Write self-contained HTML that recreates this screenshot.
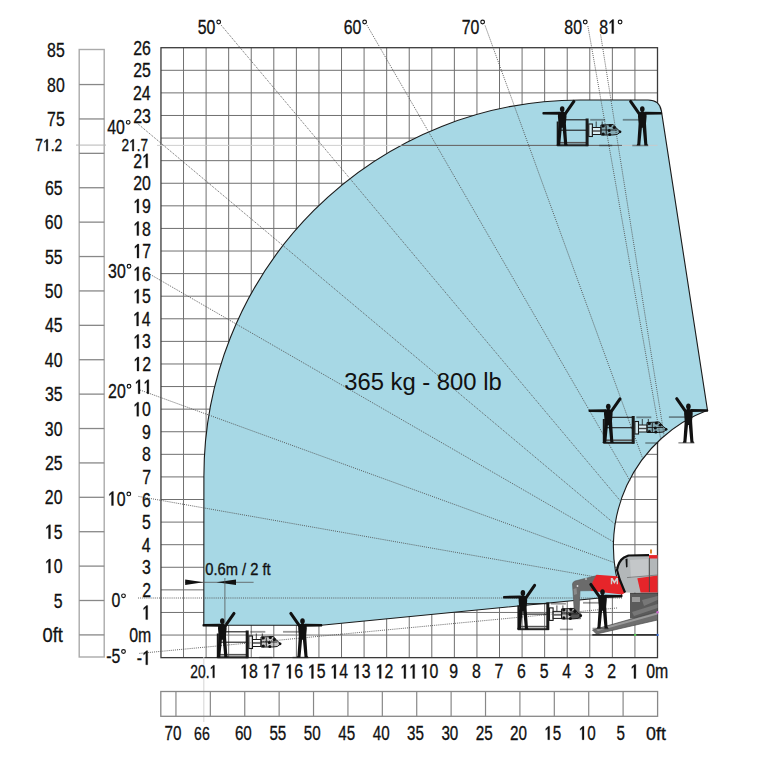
<!DOCTYPE html>
<html><head><meta charset="utf-8"><style>
html,body{margin:0;padding:0;background:#fff;}
svg{display:block;}
text{font-family:"Liberation Sans",sans-serif;}
</style></head><body>
<svg width="768" height="768" viewBox="0 0 768 768">
<rect width="768" height="768" fill="#fff"/>
<g fill="none">
<rect x="79.2" y="49.5" width="25" height="607.5" stroke="#aaa" stroke-width="1.4"/>
<line x1="79.2" x2="104.2" y1="634.90" y2="634.90" stroke="#888" stroke-width="1.3"/>
<line x1="79.2" x2="104.2" y1="600.50" y2="600.50" stroke="#888" stroke-width="1.3"/>
<line x1="79.2" x2="104.2" y1="566.11" y2="566.11" stroke="#888" stroke-width="1.3"/>
<line x1="79.2" x2="104.2" y1="531.71" y2="531.71" stroke="#888" stroke-width="1.3"/>
<line x1="79.2" x2="104.2" y1="497.31" y2="497.31" stroke="#888" stroke-width="1.3"/>
<line x1="79.2" x2="104.2" y1="462.92" y2="462.92" stroke="#888" stroke-width="1.3"/>
<line x1="79.2" x2="104.2" y1="428.52" y2="428.52" stroke="#888" stroke-width="1.3"/>
<line x1="79.2" x2="104.2" y1="394.12" y2="394.12" stroke="#888" stroke-width="1.3"/>
<line x1="79.2" x2="104.2" y1="359.73" y2="359.73" stroke="#888" stroke-width="1.3"/>
<line x1="79.2" x2="104.2" y1="325.33" y2="325.33" stroke="#888" stroke-width="1.3"/>
<line x1="79.2" x2="104.2" y1="290.93" y2="290.93" stroke="#888" stroke-width="1.3"/>
<line x1="79.2" x2="104.2" y1="256.54" y2="256.54" stroke="#888" stroke-width="1.3"/>
<line x1="79.2" x2="104.2" y1="222.14" y2="222.14" stroke="#888" stroke-width="1.3"/>
<line x1="79.2" x2="104.2" y1="187.74" y2="187.74" stroke="#888" stroke-width="1.3"/>
<line x1="79.2" x2="104.2" y1="153.35" y2="153.35" stroke="#888" stroke-width="1.3"/>
<line x1="79.2" x2="104.2" y1="118.95" y2="118.95" stroke="#888" stroke-width="1.3"/>
<line x1="79.2" x2="104.2" y1="84.55" y2="84.55" stroke="#888" stroke-width="1.3"/>
<line x1="76" x2="106" y1="145.09" y2="145.09" stroke="#b5b5b5" stroke-width="1"/>
</g>
<g stroke="#707070" stroke-width="1">
<line x1="634.93" x2="634.93" y1="47.71" y2="657.64"/>
<line x1="612.36" x2="612.36" y1="47.71" y2="657.64"/>
<line x1="589.79" x2="589.79" y1="47.71" y2="657.64"/>
<line x1="567.22" x2="567.22" y1="47.71" y2="657.64"/>
<line x1="544.65" x2="544.65" y1="47.71" y2="657.64"/>
<line x1="522.08" x2="522.08" y1="47.71" y2="657.64"/>
<line x1="499.51" x2="499.51" y1="47.71" y2="657.64"/>
<line x1="476.94" x2="476.94" y1="47.71" y2="657.64"/>
<line x1="454.37" x2="454.37" y1="47.71" y2="657.64"/>
<line x1="431.80" x2="431.80" y1="47.71" y2="657.64"/>
<line x1="409.23" x2="409.23" y1="47.71" y2="657.64"/>
<line x1="386.66" x2="386.66" y1="47.71" y2="657.64"/>
<line x1="364.09" x2="364.09" y1="47.71" y2="657.64"/>
<line x1="341.52" x2="341.52" y1="47.71" y2="657.64"/>
<line x1="318.95" x2="318.95" y1="47.71" y2="657.64"/>
<line x1="296.38" x2="296.38" y1="47.71" y2="657.64"/>
<line x1="273.81" x2="273.81" y1="47.71" y2="657.64"/>
<line x1="251.24" x2="251.24" y1="47.71" y2="657.64"/>
<line x1="228.67" x2="228.67" y1="47.71" y2="657.64"/>
<line x1="206.10" x2="206.10" y1="47.71" y2="657.64"/>
<line x1="183.53" x2="183.53" y1="47.71" y2="657.64"/>
<line x1="160.96" x2="657.50" y1="635.05" y2="635.05"/>
<line x1="160.96" x2="657.50" y1="612.46" y2="612.46"/>
<line x1="160.96" x2="657.50" y1="589.87" y2="589.87"/>
<line x1="160.96" x2="657.50" y1="567.28" y2="567.28"/>
<line x1="160.96" x2="657.50" y1="544.69" y2="544.69"/>
<line x1="160.96" x2="657.50" y1="522.10" y2="522.10"/>
<line x1="160.96" x2="657.50" y1="499.51" y2="499.51"/>
<line x1="160.96" x2="657.50" y1="476.92" y2="476.92"/>
<line x1="160.96" x2="657.50" y1="454.33" y2="454.33"/>
<line x1="160.96" x2="657.50" y1="431.74" y2="431.74"/>
<line x1="160.96" x2="657.50" y1="409.15" y2="409.15"/>
<line x1="160.96" x2="657.50" y1="386.56" y2="386.56"/>
<line x1="160.96" x2="657.50" y1="363.97" y2="363.97"/>
<line x1="160.96" x2="657.50" y1="341.38" y2="341.38"/>
<line x1="160.96" x2="657.50" y1="318.79" y2="318.79"/>
<line x1="160.96" x2="657.50" y1="296.20" y2="296.20"/>
<line x1="160.96" x2="657.50" y1="273.61" y2="273.61"/>
<line x1="160.96" x2="657.50" y1="251.02" y2="251.02"/>
<line x1="160.96" x2="657.50" y1="228.43" y2="228.43"/>
<line x1="160.96" x2="657.50" y1="205.84" y2="205.84"/>
<line x1="160.96" x2="657.50" y1="183.25" y2="183.25"/>
<line x1="160.96" x2="657.50" y1="160.66" y2="160.66"/>
<line x1="160.96" x2="657.50" y1="138.07" y2="138.07"/>
<line x1="160.96" x2="657.50" y1="115.48" y2="115.48"/>
<line x1="160.96" x2="657.50" y1="92.89" y2="92.89"/>
<line x1="160.96" x2="657.50" y1="70.30" y2="70.30"/>
</g>
<rect x="160.96" y="47.71" width="496.54" height="609.93" fill="none" stroke="#3a3a3a" stroke-width="1.3"/>
<clipPath id="blue"><path d="M203.8,625.2 L203.90,476.30 A376.3,376.3 0 0 1 580.20,100.00 L648,100.00 Q659.5,100.00 661.4,110.8 L707.5,410.3 A145.7,145.7 0 0 0 622.00,595.88 L321.25,625.2 Z"/></clipPath>
<path d="M203.8,625.2 L203.90,476.30 A376.3,376.3 0 0 1 580.20,100.00 L648,100.00 Q659.5,100.00 661.4,110.8 L707.5,410.3 A145.7,145.7 0 0 0 622.00,595.88 L321.25,625.2 Z" fill="#a7d8e5" stroke="#1a1a1a" stroke-width="1.1"/>
<line x1="157" x2="657.50" y1="145.4" y2="145.4" stroke="#c8c8c8" stroke-width="0.9"/>
<line x1="160.96" x2="622" y1="145.4" y2="145.4" stroke="#555" stroke-width="0.9" clip-path="url(#blue)"/>
<g stroke="#505050" stroke-width="0.9" stroke-dasharray="1 1.1" fill="none">
<line x1="221.2" y1="25.2" x2="621.05" y2="501.72"/>
<line x1="367" y1="25.2" x2="629.92" y2="480.59"/>
<line x1="485.1" y1="25.6" x2="643.08" y2="459.66"/>
<line x1="587.9" y1="26.1" x2="660.89" y2="440.05"/>
<line x1="600.6" y1="34.5" x2="664.35" y2="436.98"/>
<line x1="136.2" y1="122.4" x2="615.50" y2="524.58"/>
<line x1="148.3" y1="273.3" x2="613.80" y2="542.06"/>
<line x1="140" y1="390" x2="614.51" y2="562.71"/>
<line x1="138.5" y1="496.4" x2="617.60" y2="580.88"/>
<line x1="138" y1="598" x2="622" y2="598"/>
<line x1="139.4" y1="653.4" x2="618" y2="607.89"/>
</g>
<g>
<path d="M630,593.5 L657.5,593.5 L657.5,613 L640,618.5 L630,618.5 Z" fill="#5b5b5b"/>
<path d="M632,597 L640,597 L640,602 L632,602 Z" fill="#9a9a9a"/>
<path d="M642,600 L657.5,596 L657.5,600 L644,606 Z" fill="#777"/>
<path d="M632,612 L657.5,604 L657.5,608 L634,616 Z" fill="#777"/>
<path d="M592.5,630 L657.5,611.5 L657.5,620 L596.5,634 Z" fill="#6e6e6e" stroke="#4a4a4a" stroke-width="0.7"/>
<path d="M596,629.5 L657.5,612.5 L657.5,614.5 L598,631 Z" fill="#9a9a9a"/>
<path d="M572.5,584 Q573,581.5 575,581 L597,575.5 L600,590.5 L580,590.8 L579.2,611.5 L581,614 L580.5,618.8 L571,618.5 L569.6,612 L574.2,610.5 Z" fill="#6b6b6b" stroke="#555" stroke-width="0.6"/>
<circle cx="577.5" cy="586" r="0.9" fill="#ddd"/><circle cx="586" cy="579" r="0.9" fill="#ccc"/>
<path d="M573.5,589 L576.5,588 L577,594 L574,595 Z" fill="#8a8a8a"/>
<path d="M596.5,574.8 L617,576.2 L623,583 L625.5,592.5 L622,594.5 L600,592 L591,590.8 L592.5,582 Z" fill="#e6252a"/>
<path d="M610.8,584.3 L610.8,578 L612.6,578 L614.4,581 L616.2,578 L618,578 L618,584.3 L616.6,584.3 L616.6,580.6 L614.4,584 L612.2,580.6 L612.2,584.3 Z" fill="#d0d0d0"/>
<path d="M625,592.5 L619.5,579 L617,570 Q618.5,561 624,557.5 L628.5,555.5 L657.5,555.2 L657.5,593 Z" fill="#b3b7b9"/>
<path d="M630,560 L648,559 L648,576 L631,578 Z" fill="#c4c7c9"/>
<path d="M637.3,578.2 L657.5,575.6 L657.5,592.5 L640.6,592.5 Z" fill="#e6252a"/>
<path d="M649,555.1 L657.5,555.1 L657.5,558.5 L649,558.5 Z" fill="#e6252a"/>
<path d="M625,592.5 L619.5,579 L617,570 Q618.5,561 624,557.5 L628.5,555.5 L649,555.2" fill="none" stroke="#111" stroke-width="2.2" stroke-linejoin="round"/>
<line x1="649.4" y1="558" x2="649.4" y2="592" stroke="#444" stroke-width="0.9"/>
<line x1="627" y1="577.6" x2="657.5" y2="575" stroke="#666" stroke-width="0.7"/>
<path d="M625.5,559 L627.5,558.5 L627.5,567 L626,567.5 Z" fill="#111"/>
<line x1="630" y1="593.3" x2="657.5" y2="593.3" stroke="#333" stroke-width="1"/>
<rect x="650" y="549.5" width="2" height="4" fill="#d9822b"/>
<line x1="592.3" y1="634.9" x2="657.5" y2="634.9" stroke="#333" stroke-width="1.7"/>
<circle cx="635.2" cy="634.9" r="1.2" fill="#5c5"/>
<circle cx="657.5" cy="634.9" r="1.2" fill="#36c"/>
<circle cx="657.5" cy="612.2" r="1.2" fill="#c6c"/>
</g>
<defs><g id="pa"><path d="M-1.2,-34.2 L1.2,-34.2 L1.6,-33.4 L4.1,-32.9 L4.3,-29 L3.7,-22 L3.9,-18.5 L5.0,-1.8 L5.8,0 L2.0,0 L1.9,-1.8 L0.4,-17.8 L-0.4,-17.8 L-1.9,-1.8 L-2.0,0 L-5.8,0 L-5.0,-1.8 L-3.9,-18.5 L-3.7,-22 L-4.3,-29 L-4.1,-32.9 L-1.6,-33.4 Z"/><ellipse cx="0" cy="-36.4" rx="2.3" ry="2.9"/><line x1="-3.0" y1="-31.6" x2="-11.7" y2="-44.1" stroke="#111" stroke-width="3.0" stroke-linecap="round"/><path d="M2,-33.8 L19.4,-33.5 Q20.4,-32.3 19.4,-31.0 L2,-30.8 Z"/></g>
<g id="pb"><use href="#pa" transform="scale(-1,1)"/></g>
<g id="bk" fill="none" stroke="#1a1a1a" stroke-width="1.1"><line x1="-3" y1="-25.7" x2="24.5" y2="-25.7"/><line x1="-3" y1="-15.3" x2="24.5" y2="-15.3"/><line x1="-3" y1="-2.8" x2="24.5" y2="-2.8" stroke="#555" stroke-width="1.6"/><rect x="-5" y="-1.2" width="31" height="2" fill="#222" stroke="none"/><rect x="23.4" y="-27" width="3" height="27.6" fill="#1a1a1a" stroke="none"/><rect x="-5.5" y="-24" width="2" height="24" fill="#1a1a1a" stroke="none"/><line x1="28" y1="-25.7" x2="43" y2="-25.7" stroke="rgba(30,30,30,0.45)" stroke-width="1.8"/><line x1="37" y1="0" x2="50" y2="0" stroke="rgba(30,30,30,0.45)" stroke-width="1.6"/><rect x="26.6" y="-21.5" width="3.6" height="12.5" fill="rgba(255,255,255,0.5)" stroke-width="1.1"/><rect x="30.2" y="-18" width="8.5" height="7" fill="rgba(255,255,255,0.6)" stroke-width="1"/><line x1="30.5" y1="-14.5" x2="38.5" y2="-14.5" stroke-width="1.4" stroke="#444"/><line x1="34" y1="-18" x2="34" y2="-24" stroke-width="0.8"/><line x1="40" y1="-18" x2="40" y2="-24" stroke-width="0.8"/><path d="M38.7,-20.5 L51,-21 L55,-16.5 L58.5,-13.7 L55,-11 L50,-10.5 L38.7,-10.5 Z" fill="rgba(0,0,0,0.22)" stroke-width="1"/><line x1="44" y1="-20" x2="44" y2="-11" stroke-width="0.9"/><line x1="38.7" y1="-15.5" x2="55" y2="-15.5" stroke-width="0.9"/><circle cx="41" cy="-19.5" r="1.6" fill="#111" stroke="none"/><circle cx="41" cy="-11.5" r="1.6" fill="#111" stroke="none"/><circle cx="47" cy="-15" r="1.5" fill="#111" stroke="none"/><circle cx="48" cy="-20" r="1.6" fill="#111" stroke="none"/><circle cx="52" cy="-18" r="1.6" fill="#111" stroke="none"/><circle cx="47.5" cy="-11" r="1.5" fill="#111" stroke="none"/><circle cx="57.8" cy="-13.7" r="1.4" fill="#111" stroke="none"/></g><g id="ga"><line x1="-19.5" y1="-25.7" x2="-3" y2="-25.7" stroke="rgba(30,30,30,0.45)" stroke-width="1.8"/><line x1="-10" y1="0" x2="6" y2="0" stroke="rgba(30,30,30,0.45)" stroke-width="1.6"/></g></defs>
<use href="#bk" transform="translate(222.3,657.5)"/>
<use href="#pb" transform="translate(222.3,657.5)" fill="#111"/>
<use href="#ga" transform="translate(302.5,657.5)"/>
<use href="#pa" transform="translate(302.5,657.5)" fill="#111"/>
<use href="#bk" transform="translate(522.9,629.4)"/>
<use href="#pb" transform="translate(522.9,629.4)" fill="#111"/>
<use href="#ga" transform="translate(602.5,628.5)"/>
<use href="#pa" transform="translate(602.5,628.5)" fill="#111"/>
<use href="#bk" transform="translate(562.2,145.5)"/>
<use href="#pb" transform="translate(562.2,145.5)" fill="#111"/>
<use href="#ga" transform="translate(642.3,145.5)"/>
<use href="#pa" transform="translate(642.3,145.5)" fill="#111"/>
<use href="#bk" transform="translate(608.3,443)"/>
<use href="#pb" transform="translate(608.3,443)" fill="#111"/>
<use href="#ga" transform="translate(688.4,442.8)"/>
<use href="#pa" transform="translate(688.4,442.8)" fill="#111"/>
<line x1="203.84" x2="203.84" y1="657" y2="722" stroke="#d4d4d4" stroke-width="1"/>
<g font-family="Liberation Sans, sans-serif">
<text transform="translate(136.86,664.74) scale(0.78,1)" font-size="20.35" fill="#111" stroke="#111" stroke-width="0.32">- </text>
<path transform="translate(142.15,664.74) scale(0.00775,-0.00994)" d="M470,0 L715,0 L715,1409 L555,1409 L195,1160 L195,985 L470,1180 Z" fill="#111" stroke="#111" stroke-width="32.2"/>
<text transform="translate(129.20,642.15) scale(0.78,1)" font-size="20.35" fill="#111" stroke="#111" stroke-width="0.32">0m</text>
<text transform="translate(142.14,619.56) scale(0.78,1)" font-size="20.35" fill="#111" stroke="#111" stroke-width="0.32"> </text>
<path transform="translate(142.14,619.56) scale(0.00775,-0.00994)" d="M470,0 L715,0 L715,1409 L555,1409 L195,1160 L195,985 L470,1180 Z" fill="#111" stroke="#111" stroke-width="32.2"/>
<text transform="translate(142.18,596.97) scale(0.78,1)" font-size="20.35" fill="#111" stroke="#111" stroke-width="0.32">2</text>
<text transform="translate(142.06,574.38) scale(0.78,1)" font-size="20.35" fill="#111" stroke="#111" stroke-width="0.32">3</text>
<text transform="translate(141.83,551.79) scale(0.78,1)" font-size="20.35" fill="#111" stroke="#111" stroke-width="0.32">4</text>
<text transform="translate(142.02,529.20) scale(0.78,1)" font-size="20.35" fill="#111" stroke="#111" stroke-width="0.32">5</text>
<text transform="translate(142.06,506.61) scale(0.78,1)" font-size="20.35" fill="#111" stroke="#111" stroke-width="0.32">6</text>
<text transform="translate(142.18,484.02) scale(0.78,1)" font-size="20.35" fill="#111" stroke="#111" stroke-width="0.32">7</text>
<text transform="translate(142.06,461.43) scale(0.78,1)" font-size="20.35" fill="#111" stroke="#111" stroke-width="0.32">8</text>
<text transform="translate(142.10,438.84) scale(0.78,1)" font-size="20.35" fill="#111" stroke="#111" stroke-width="0.32">9</text>
<text transform="translate(133.17,416.25) scale(0.78,1)" font-size="20.35" fill="#111" stroke="#111" stroke-width="0.32"> 0</text>
<path transform="translate(133.17,416.25) scale(0.00775,-0.00994)" d="M470,0 L715,0 L715,1409 L555,1409 L195,1160 L195,985 L470,1180 Z" fill="#111" stroke="#111" stroke-width="32.2"/>
<text transform="translate(134.48,393.66) scale(0.78,1)" font-size="20.35" fill="#111" stroke="#111" stroke-width="0.32">  </text>
<path transform="translate(134.48,393.66) scale(0.00775,-0.00994)" d="M470,0 L715,0 L715,1409 L555,1409 L195,1160 L195,985 L470,1180 Z" fill="#111" stroke="#111" stroke-width="32.2"/>
<path transform="translate(143.31,393.66) scale(0.00775,-0.00994)" d="M470,0 L715,0 L715,1409 L555,1409 L195,1160 L195,985 L470,1180 Z" fill="#111" stroke="#111" stroke-width="32.2"/>
<text transform="translate(133.37,371.07) scale(0.78,1)" font-size="20.35" fill="#111" stroke="#111" stroke-width="0.32"> 2</text>
<path transform="translate(133.37,371.07) scale(0.00775,-0.00994)" d="M470,0 L715,0 L715,1409 L555,1409 L195,1160 L195,985 L470,1180 Z" fill="#111" stroke="#111" stroke-width="32.2"/>
<text transform="translate(133.25,348.48) scale(0.78,1)" font-size="20.35" fill="#111" stroke="#111" stroke-width="0.32"> 3</text>
<path transform="translate(133.25,348.48) scale(0.00775,-0.00994)" d="M470,0 L715,0 L715,1409 L555,1409 L195,1160 L195,985 L470,1180 Z" fill="#111" stroke="#111" stroke-width="32.2"/>
<text transform="translate(133.01,325.89) scale(0.78,1)" font-size="20.35" fill="#111" stroke="#111" stroke-width="0.32"> 4</text>
<path transform="translate(133.01,325.89) scale(0.00775,-0.00994)" d="M470,0 L715,0 L715,1409 L555,1409 L195,1160 L195,985 L470,1180 Z" fill="#111" stroke="#111" stroke-width="32.2"/>
<text transform="translate(133.21,303.30) scale(0.78,1)" font-size="20.35" fill="#111" stroke="#111" stroke-width="0.32"> 5</text>
<path transform="translate(133.21,303.30) scale(0.00775,-0.00994)" d="M470,0 L715,0 L715,1409 L555,1409 L195,1160 L195,985 L470,1180 Z" fill="#111" stroke="#111" stroke-width="32.2"/>
<text transform="translate(133.25,280.71) scale(0.78,1)" font-size="20.35" fill="#111" stroke="#111" stroke-width="0.32"> 6</text>
<path transform="translate(133.25,280.71) scale(0.00775,-0.00994)" d="M470,0 L715,0 L715,1409 L555,1409 L195,1160 L195,985 L470,1180 Z" fill="#111" stroke="#111" stroke-width="32.2"/>
<text transform="translate(133.37,258.12) scale(0.78,1)" font-size="20.35" fill="#111" stroke="#111" stroke-width="0.32"> 7</text>
<path transform="translate(133.37,258.12) scale(0.00775,-0.00994)" d="M470,0 L715,0 L715,1409 L555,1409 L195,1160 L195,985 L470,1180 Z" fill="#111" stroke="#111" stroke-width="32.2"/>
<text transform="translate(133.25,235.53) scale(0.78,1)" font-size="20.35" fill="#111" stroke="#111" stroke-width="0.32"> 8</text>
<path transform="translate(133.25,235.53) scale(0.00775,-0.00994)" d="M470,0 L715,0 L715,1409 L555,1409 L195,1160 L195,985 L470,1180 Z" fill="#111" stroke="#111" stroke-width="32.2"/>
<text transform="translate(133.29,212.94) scale(0.78,1)" font-size="20.35" fill="#111" stroke="#111" stroke-width="0.32"> 9</text>
<path transform="translate(133.29,212.94) scale(0.00775,-0.00994)" d="M470,0 L715,0 L715,1409 L555,1409 L195,1160 L195,985 L470,1180 Z" fill="#111" stroke="#111" stroke-width="32.2"/>
<text transform="translate(133.17,190.35) scale(0.78,1)" font-size="20.35" fill="#111" stroke="#111" stroke-width="0.32">20</text>
<text transform="translate(133.33,167.76) scale(0.78,1)" font-size="20.35" fill="#111" stroke="#111" stroke-width="0.32">2 </text>
<path transform="translate(142.16,167.76) scale(0.00775,-0.00994)" d="M470,0 L715,0 L715,1409 L555,1409 L195,1160 L195,985 L470,1180 Z" fill="#111" stroke="#111" stroke-width="32.2"/>
<text transform="translate(133.25,122.58) scale(0.78,1)" font-size="20.35" fill="#111" stroke="#111" stroke-width="0.32">23</text>
<text transform="translate(133.01,99.99) scale(0.78,1)" font-size="20.35" fill="#111" stroke="#111" stroke-width="0.32">24</text>
<text transform="translate(133.21,77.40) scale(0.78,1)" font-size="20.35" fill="#111" stroke="#111" stroke-width="0.32">25</text>
<text transform="translate(133.25,54.81) scale(0.78,1)" font-size="20.35" fill="#111" stroke="#111" stroke-width="0.32">26</text>
<text transform="translate(121.59,150.93) scale(0.8,1)" font-size="16.96" fill="#111" stroke="#111" stroke-width="0.32">2 .7</text>
<path transform="translate(129.13,150.93) scale(0.00663,-0.00828)" d="M470,0 L715,0 L715,1409 L555,1409 L195,1160 L195,985 L470,1180 Z" fill="#111" stroke="#111" stroke-width="38.6"/>
<text transform="translate(42.46,641.90) scale(0.9,1)" font-size="20.35" fill="#111" stroke="#111" stroke-width="0.32">0ft</text>
<text transform="translate(53.72,607.50) scale(0.78,1)" font-size="20.35" fill="#111" stroke="#111" stroke-width="0.32">5</text>
<text transform="translate(44.87,573.10) scale(0.78,1)" font-size="20.35" fill="#111" stroke="#111" stroke-width="0.32"> 0</text>
<path transform="translate(44.87,573.10) scale(0.00775,-0.00994)" d="M470,0 L715,0 L715,1409 L555,1409 L195,1160 L195,985 L470,1180 Z" fill="#111" stroke="#111" stroke-width="32.2"/>
<text transform="translate(44.91,538.71) scale(0.78,1)" font-size="20.35" fill="#111" stroke="#111" stroke-width="0.32"> 5</text>
<path transform="translate(44.91,538.71) scale(0.00775,-0.00994)" d="M470,0 L715,0 L715,1409 L555,1409 L195,1160 L195,985 L470,1180 Z" fill="#111" stroke="#111" stroke-width="32.2"/>
<text transform="translate(44.87,504.31) scale(0.78,1)" font-size="20.35" fill="#111" stroke="#111" stroke-width="0.32">20</text>
<text transform="translate(44.91,469.91) scale(0.78,1)" font-size="20.35" fill="#111" stroke="#111" stroke-width="0.32">25</text>
<text transform="translate(44.87,435.52) scale(0.78,1)" font-size="20.35" fill="#111" stroke="#111" stroke-width="0.32">30</text>
<text transform="translate(44.91,401.12) scale(0.78,1)" font-size="20.35" fill="#111" stroke="#111" stroke-width="0.32">35</text>
<text transform="translate(44.87,366.72) scale(0.78,1)" font-size="20.35" fill="#111" stroke="#111" stroke-width="0.32">40</text>
<text transform="translate(44.91,332.33) scale(0.78,1)" font-size="20.35" fill="#111" stroke="#111" stroke-width="0.32">45</text>
<text transform="translate(44.87,297.93) scale(0.78,1)" font-size="20.35" fill="#111" stroke="#111" stroke-width="0.32">50</text>
<text transform="translate(44.91,263.53) scale(0.78,1)" font-size="20.35" fill="#111" stroke="#111" stroke-width="0.32">55</text>
<text transform="translate(44.87,229.14) scale(0.78,1)" font-size="20.35" fill="#111" stroke="#111" stroke-width="0.32">60</text>
<text transform="translate(44.91,194.74) scale(0.78,1)" font-size="20.35" fill="#111" stroke="#111" stroke-width="0.32">65</text>
<text transform="translate(47.11,125.95) scale(0.78,1)" font-size="20.35" fill="#111" stroke="#111" stroke-width="0.32">75</text>
<text transform="translate(47.07,91.55) scale(0.78,1)" font-size="20.35" fill="#111" stroke="#111" stroke-width="0.32">80</text>
<text transform="translate(47.11,57.15) scale(0.78,1)" font-size="20.35" fill="#111" stroke="#111" stroke-width="0.32">85</text>
<text transform="translate(35.36,151.02) scale(0.8,1)" font-size="17.24" fill="#111" stroke="#111" stroke-width="0.32">7 .2</text>
<path transform="translate(43.03,151.02) scale(0.00674,-0.00842)" d="M470,0 L715,0 L715,1409 L555,1409 L195,1160 L195,985 L470,1180 Z" fill="#111" stroke="#111" stroke-width="38.0"/>
<text transform="translate(107.27,133.90) scale(0.78,1)" font-size="20.35" fill="#111" stroke="#111" stroke-width="0.32">40</text>
<circle cx="128.20" cy="122.30" r="1.85" fill="none" stroke="#111" stroke-width="1.15"/>
<text transform="translate(108.07,277.80) scale(0.78,1)" font-size="20.35" fill="#111" stroke="#111" stroke-width="0.32">30</text>
<circle cx="129.00" cy="266.20" r="1.85" fill="none" stroke="#111" stroke-width="1.15"/>
<text transform="translate(108.07,397.80) scale(0.78,1)" font-size="20.35" fill="#111" stroke="#111" stroke-width="0.32">20</text>
<circle cx="129.00" cy="386.20" r="1.85" fill="none" stroke="#111" stroke-width="1.15"/>
<text transform="translate(107.87,505.50) scale(0.78,1)" font-size="20.35" fill="#111" stroke="#111" stroke-width="0.32"> 0</text>
<path transform="translate(107.87,505.50) scale(0.00775,-0.00994)" d="M470,0 L715,0 L715,1409 L555,1409 L195,1160 L195,985 L470,1180 Z" fill="#111" stroke="#111" stroke-width="32.2"/>
<circle cx="128.80" cy="493.90" r="1.85" fill="none" stroke="#111" stroke-width="1.15"/>
<text transform="translate(111.38,607.40) scale(0.78,1)" font-size="20.35" fill="#111" stroke="#111" stroke-width="0.32">0</text>
<circle cx="123.50" cy="595.80" r="1.85" fill="none" stroke="#111" stroke-width="1.15"/>
<text transform="translate(106.15,663.10) scale(0.78,1)" font-size="20.35" fill="#111" stroke="#111" stroke-width="0.32">-5</text>
<circle cx="123.50" cy="651.50" r="1.85" fill="none" stroke="#111" stroke-width="1.15"/>
<text transform="translate(197.76,33.60) scale(0.78,1)" font-size="20.35" fill="#111" stroke="#111" stroke-width="0.32">50</text>
<circle cx="218.69" cy="22.00" r="1.85" fill="none" stroke="#111" stroke-width="1.15"/>
<text transform="translate(343.71,33.60) scale(0.78,1)" font-size="20.35" fill="#111" stroke="#111" stroke-width="0.32">60</text>
<circle cx="364.63" cy="22.00" r="1.85" fill="none" stroke="#111" stroke-width="1.15"/>
<text transform="translate(461.71,33.60) scale(0.78,1)" font-size="20.35" fill="#111" stroke="#111" stroke-width="0.32">70</text>
<circle cx="482.63" cy="22.00" r="1.85" fill="none" stroke="#111" stroke-width="1.15"/>
<text transform="translate(564.33,33.60) scale(0.78,1)" font-size="20.35" fill="#111" stroke="#111" stroke-width="0.32">80</text>
<circle cx="585.25" cy="22.00" r="1.85" fill="none" stroke="#111" stroke-width="1.15"/>
<text transform="translate(599.33,33.60) scale(0.78,1)" font-size="20.35" fill="#111" stroke="#111" stroke-width="0.32">8 </text>
<path transform="translate(608.15,33.60) scale(0.00775,-0.00994)" d="M470,0 L715,0 L715,1409 L555,1409 L195,1160 L195,985 L470,1180 Z" fill="#111" stroke="#111" stroke-width="32.2"/>
<circle cx="620.09" cy="22.00" r="1.85" fill="none" stroke="#111" stroke-width="1.15"/>
<text transform="translate(646.26,678.40) scale(0.78,1)" font-size="20.35" fill="#111" stroke="#111" stroke-width="0.32">0m</text>
<text transform="translate(630.31,678.40) scale(0.78,1)" font-size="20.35" fill="#111" stroke="#111" stroke-width="0.32"> </text>
<path transform="translate(630.31,678.40) scale(0.00775,-0.00994)" d="M470,0 L715,0 L715,1409 L555,1409 L195,1160 L195,985 L470,1180 Z" fill="#111" stroke="#111" stroke-width="32.2"/>
<text transform="translate(607.35,678.40) scale(0.78,1)" font-size="20.35" fill="#111" stroke="#111" stroke-width="0.32">2</text>
<text transform="translate(584.82,678.40) scale(0.78,1)" font-size="20.35" fill="#111" stroke="#111" stroke-width="0.32">3</text>
<text transform="translate(562.25,678.40) scale(0.78,1)" font-size="20.35" fill="#111" stroke="#111" stroke-width="0.32">4</text>
<text transform="translate(539.64,678.40) scale(0.78,1)" font-size="20.35" fill="#111" stroke="#111" stroke-width="0.32">5</text>
<text transform="translate(517.01,678.40) scale(0.78,1)" font-size="20.35" fill="#111" stroke="#111" stroke-width="0.32">6</text>
<text transform="translate(494.50,678.40) scale(0.78,1)" font-size="20.35" fill="#111" stroke="#111" stroke-width="0.32">7</text>
<text transform="translate(471.93,678.40) scale(0.78,1)" font-size="20.35" fill="#111" stroke="#111" stroke-width="0.32">8</text>
<text transform="translate(449.34,678.40) scale(0.78,1)" font-size="20.35" fill="#111" stroke="#111" stroke-width="0.32">9</text>
<text transform="translate(420.69,678.40) scale(0.78,1)" font-size="20.35" fill="#111" stroke="#111" stroke-width="0.32"> 0</text>
<path transform="translate(420.69,678.40) scale(0.00775,-0.00994)" d="M470,0 L715,0 L715,1409 L555,1409 L195,1160 L195,985 L470,1180 Z" fill="#111" stroke="#111" stroke-width="32.2"/>
<text transform="translate(400.28,678.40) scale(0.78,1)" font-size="20.35" fill="#111" stroke="#111" stroke-width="0.32">  </text>
<path transform="translate(400.28,678.40) scale(0.00775,-0.00994)" d="M470,0 L715,0 L715,1409 L555,1409 L195,1160 L195,985 L470,1180 Z" fill="#111" stroke="#111" stroke-width="32.2"/>
<path transform="translate(409.11,678.40) scale(0.00775,-0.00994)" d="M470,0 L715,0 L715,1409 L555,1409 L195,1160 L195,985 L470,1180 Z" fill="#111" stroke="#111" stroke-width="32.2"/>
<text transform="translate(375.65,678.40) scale(0.78,1)" font-size="20.35" fill="#111" stroke="#111" stroke-width="0.32"> 2</text>
<path transform="translate(375.65,678.40) scale(0.00775,-0.00994)" d="M470,0 L715,0 L715,1409 L555,1409 L195,1160 L195,985 L470,1180 Z" fill="#111" stroke="#111" stroke-width="32.2"/>
<text transform="translate(353.02,678.40) scale(0.78,1)" font-size="20.35" fill="#111" stroke="#111" stroke-width="0.32"> 3</text>
<path transform="translate(353.02,678.40) scale(0.00775,-0.00994)" d="M470,0 L715,0 L715,1409 L555,1409 L195,1160 L195,985 L470,1180 Z" fill="#111" stroke="#111" stroke-width="32.2"/>
<text transform="translate(330.33,678.40) scale(0.78,1)" font-size="20.35" fill="#111" stroke="#111" stroke-width="0.32"> 4</text>
<path transform="translate(330.33,678.40) scale(0.00775,-0.00994)" d="M470,0 L715,0 L715,1409 L555,1409 L195,1160 L195,985 L470,1180 Z" fill="#111" stroke="#111" stroke-width="32.2"/>
<text transform="translate(307.86,678.40) scale(0.78,1)" font-size="20.35" fill="#111" stroke="#111" stroke-width="0.32"> 5</text>
<path transform="translate(307.86,678.40) scale(0.00775,-0.00994)" d="M470,0 L715,0 L715,1409 L555,1409 L195,1160 L195,985 L470,1180 Z" fill="#111" stroke="#111" stroke-width="32.2"/>
<text transform="translate(285.31,678.40) scale(0.78,1)" font-size="20.35" fill="#111" stroke="#111" stroke-width="0.32"> 6</text>
<path transform="translate(285.31,678.40) scale(0.00775,-0.00994)" d="M470,0 L715,0 L715,1409 L555,1409 L195,1160 L195,985 L470,1180 Z" fill="#111" stroke="#111" stroke-width="32.2"/>
<text transform="translate(262.80,678.40) scale(0.78,1)" font-size="20.35" fill="#111" stroke="#111" stroke-width="0.32"> 7</text>
<path transform="translate(262.80,678.40) scale(0.00775,-0.00994)" d="M470,0 L715,0 L715,1409 L555,1409 L195,1160 L195,985 L470,1180 Z" fill="#111" stroke="#111" stroke-width="32.2"/>
<text transform="translate(240.17,678.40) scale(0.78,1)" font-size="20.35" fill="#111" stroke="#111" stroke-width="0.32"> 8</text>
<path transform="translate(240.17,678.40) scale(0.00775,-0.00994)" d="M470,0 L715,0 L715,1409 L555,1409 L195,1160 L195,985 L470,1180 Z" fill="#111" stroke="#111" stroke-width="32.2"/>
<text transform="translate(190.35,677.87) scale(0.76,1)" font-size="18.23" fill="#111" stroke="#111" stroke-width="0.32">20. </text>
<path transform="translate(209.61,677.87) scale(0.00677,-0.00890)" d="M470,0 L715,0 L715,1409 L555,1409 L195,1160 L195,985 L470,1180 Z" fill="#111" stroke="#111" stroke-width="35.9"/>
<rect x="160.8" y="691.5" width="496.8" height="24.8" fill="none" stroke="#888" stroke-width="1.3"/>
<line x1="623.10" x2="623.10" y1="691.5" y2="716.3" stroke="#888" stroke-width="1.2"/>
<line x1="588.71" x2="588.71" y1="691.5" y2="716.3" stroke="#888" stroke-width="1.2"/>
<line x1="554.31" x2="554.31" y1="691.5" y2="716.3" stroke="#888" stroke-width="1.2"/>
<line x1="519.91" x2="519.91" y1="691.5" y2="716.3" stroke="#888" stroke-width="1.2"/>
<line x1="485.52" x2="485.52" y1="691.5" y2="716.3" stroke="#888" stroke-width="1.2"/>
<line x1="451.12" x2="451.12" y1="691.5" y2="716.3" stroke="#888" stroke-width="1.2"/>
<line x1="416.72" x2="416.72" y1="691.5" y2="716.3" stroke="#888" stroke-width="1.2"/>
<line x1="382.33" x2="382.33" y1="691.5" y2="716.3" stroke="#888" stroke-width="1.2"/>
<line x1="347.93" x2="347.93" y1="691.5" y2="716.3" stroke="#888" stroke-width="1.2"/>
<line x1="313.53" x2="313.53" y1="691.5" y2="716.3" stroke="#888" stroke-width="1.2"/>
<line x1="279.14" x2="279.14" y1="691.5" y2="716.3" stroke="#888" stroke-width="1.2"/>
<line x1="244.74" x2="244.74" y1="691.5" y2="716.3" stroke="#888" stroke-width="1.2"/>
<line x1="210.34" x2="210.34" y1="691.5" y2="716.3" stroke="#888" stroke-width="1.2"/>
<line x1="175.95" x2="175.95" y1="691.5" y2="716.3" stroke="#888" stroke-width="1.2"/>
<text transform="translate(616.48,739.70) scale(0.78,1)" font-size="19.51" fill="#111" stroke="#111" stroke-width="0.32">5</text>
<text transform="translate(578.68,739.70) scale(0.78,1)" font-size="19.51" fill="#111" stroke="#111" stroke-width="0.32"> 0</text>
<path transform="translate(578.68,739.70) scale(0.00743,-0.00952)" d="M470,0 L715,0 L715,1409 L555,1409 L195,1160 L195,985 L470,1180 Z" fill="#111" stroke="#111" stroke-width="33.6"/>
<text transform="translate(544.30,739.70) scale(0.78,1)" font-size="19.51" fill="#111" stroke="#111" stroke-width="0.32"> 5</text>
<path transform="translate(544.30,739.70) scale(0.00743,-0.00952)" d="M470,0 L715,0 L715,1409 L555,1409 L195,1160 L195,985 L470,1180 Z" fill="#111" stroke="#111" stroke-width="33.6"/>
<text transform="translate(510.07,739.70) scale(0.78,1)" font-size="19.51" fill="#111" stroke="#111" stroke-width="0.32">20</text>
<text transform="translate(475.70,739.70) scale(0.78,1)" font-size="19.51" fill="#111" stroke="#111" stroke-width="0.32">25</text>
<text transform="translate(441.38,739.70) scale(0.78,1)" font-size="19.51" fill="#111" stroke="#111" stroke-width="0.32">30</text>
<text transform="translate(407.00,739.70) scale(0.78,1)" font-size="19.51" fill="#111" stroke="#111" stroke-width="0.32">35</text>
<text transform="translate(372.70,739.70) scale(0.78,1)" font-size="19.51" fill="#111" stroke="#111" stroke-width="0.32">40</text>
<text transform="translate(338.32,739.70) scale(0.78,1)" font-size="19.51" fill="#111" stroke="#111" stroke-width="0.32">45</text>
<text transform="translate(303.77,739.70) scale(0.78,1)" font-size="19.51" fill="#111" stroke="#111" stroke-width="0.32">50</text>
<text transform="translate(269.39,739.70) scale(0.78,1)" font-size="19.51" fill="#111" stroke="#111" stroke-width="0.32">55</text>
<text transform="translate(234.90,739.70) scale(0.78,1)" font-size="19.51" fill="#111" stroke="#111" stroke-width="0.32">60</text>
<text transform="translate(164.61,739.70) scale(0.78,1)" font-size="19.51" fill="#111" stroke="#111" stroke-width="0.32">70</text>
<text transform="translate(194.08,739.82) scale(0.78,1)" font-size="18.09" fill="#111" stroke="#111" stroke-width="0.32">66</text>
<text transform="translate(646.08,739.61) scale(0.93,1)" font-size="19.22" fill="#111" stroke="#111" stroke-width="0.32">0ft</text>
<text transform="translate(344.31,389.56) scale(0.99,1)" font-size="24.03" fill="#111" stroke="#111" stroke-width="0.05">365 kg - 800 lb</text>
<text transform="translate(205.21,574.68) scale(0.89,1)" font-size="16.54" fill="#111" stroke="#111" stroke-width="0.32">0.6m / 2 ft</text>
</g>
<g>
<line x1="185" y1="582.3" x2="253.6" y2="582.3" stroke="#555" stroke-width="0.8"/>
<path d="M185.2,579.6 L203.4,582.3 L185.2,585 Z" fill="#111"/>
<path d="M236,579.6 L216.5,582.3 L236,585 Z" fill="#111"/>
<line x1="224.9" y1="578" x2="224.9" y2="625" stroke="#555" stroke-width="0.8"/>
</g>
</svg></body></html>
